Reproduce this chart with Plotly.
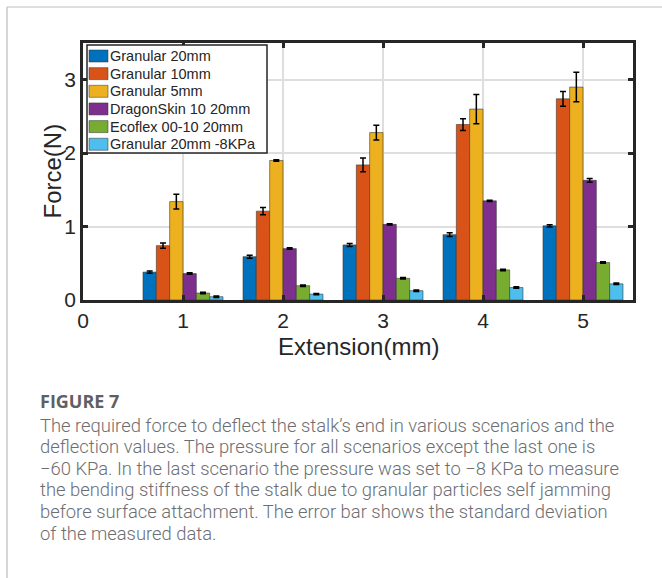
import plotly.graph_objects as go

# ---------------- data ----------------
extension_mm = [1, 2, 3, 4, 5]
series_names = ["Granular 20mm", "Granular 10mm", "Granular 5mm",
                "DragonSkin 10 20mm", "Ecoflex 00-10 20mm", "Granular 20mm -8KPa"]
granular_20 = [0.38, 0.59, 0.75, 0.89, 1.01]
granular_20_err = [0.015, 0.02, 0.02, 0.025, 0.015]
granular_10 = [0.74, 1.21, 1.84, 2.39, 2.74]
granular_10_err = [0.035, 0.05, 0.095, 0.08, 0.10]
granular_5 = [1.34, 1.90, 2.28, 2.60, 2.90]
granular_5_err = [0.10, 0.01, 0.10, 0.20, 0.20]
dragonskin = [0.36, 0.70, 1.03, 1.35, 1.63]
dragonskin_err = [0.01, 0.01, 0.01, 0.01, 0.025]
ecoflex = [0.095, 0.195, 0.295, 0.41, 0.51]
ecoflex_err = [0.01, 0.01, 0.01, 0.01, 0.01]
granular_20_low = [0.045, 0.08, 0.127, 0.17, 0.22]
granular_20_low_err = [0.01, 0.01, 0.01, 0.01, 0.01]
x_ticks = [0, 1, 2, 3, 4, 5]
y_ticks = [0, 1, 2, 3]

values = [granular_20, granular_10, granular_5, dragonskin, ecoflex, granular_20_low]
errors = [granular_20_err, granular_10_err, granular_5_err, dragonskin_err, ecoflex_err, granular_20_low_err]
colors = ["#0072BD", "#D95319", "#EDB120", "#7E2F8E", "#77AC30", "#4DBEEE"]

caption_title = "FIGURE 7"
caption_lines = [
    "The required force to deflect the stalk\u2019s end in various scenarios and the",
    "deflection values. The pressure for all scenarios except the last one is",
    "\u221260 KPa. In the last scenario the pressure was set to \u22128 KPa to measure",
    "the bending stiffness of the stalk due to granular particles self jamming",
    "before surface attachment. The error bar shows the standard deviation",
    "of the measured data.",
]

# ---------------- layout geometry (pixels) ----------------
W, H = 662, 578
L, R, T, B = 83, 633, 43, 300
PW, PH = R - L, B - T


def px(x):
    return (x - L) / PW


def py(y):
    return (B - y) / PH


fig = go.Figure()
for name, vals, errs, col in zip(series_names, values, errors, colors):
    fig.add_trace(go.Bar(
        x=extension_mm, y=vals, name=name,
        marker=dict(color=col, line=dict(color="rgba(50,50,50,0.55)", width=1)),
        error_y=dict(type="data", array=errs, visible=True, color="#000000",
                     thickness=1.5, width=3),
        showlegend=False,
    ))

axis_common = dict(
    showline=True, linewidth=2.5, linecolor="#262626", mirror="ticks",
    ticks="inside", ticklen=5, tickwidth=2.5, tickcolor="#262626",
    showgrid=True, gridcolor="#dedede", gridwidth=1.5, zeroline=False,
    automargin=False,
    tickfont=dict(family="Liberation Sans, Arial", size=21, color="#262626"),
)

fig.update_layout(
    width=W, height=H,
    margin=dict(l=L, r=W - R, t=T, b=H - B, autoexpand=False),
    paper_bgcolor="white", plot_bgcolor="white",
    barmode="group", bargap=0.2, bargroupgap=0.0,
    xaxis=dict(range=[0, 5.5], tickvals=x_ticks, ticklabelstandoff=0, **axis_common),
    yaxis=dict(range=[0, 3.5], tickvals=y_ticks, ticklabelstandoff=0, **axis_common),
)

shapes = []
annotations = []

title_font = dict(family="Liberation Sans, Arial", size=24, color="#262626")
annotations.append(dict(text="Extension(mm)", xref="paper", yref="paper",
                        x=0.5, y=py(346), xanchor="center", yanchor="middle",
                        showarrow=False, font=title_font))
annotations.append(dict(text="Force(N)", xref="paper", yref="paper",
                        x=px(52), y=0.5, xanchor="center", yanchor="middle",
                        textangle=-90, showarrow=False, font=title_font))

# custom legend box
lx0, lx1, ly0, ly1 = 87, 267, 45, 153
shapes.append(dict(type="rect", xref="paper", yref="paper",
                   x0=px(lx0), x1=px(lx1), y0=py(ly1), y1=py(ly0),
                   fillcolor="white", line=dict(color="#262626", width=1.5), layer="above"))
row0, row_h = 56.0, 17.65
for i, (name, col) in enumerate(zip(series_names, colors)):
    cy = row0 + i * row_h
    shapes.append(dict(type="rect", xref="paper", yref="paper",
                       x0=px(89), x1=px(108), y0=py(cy + 6), y1=py(cy - 6),
                       fillcolor=col, line=dict(color="rgba(50,50,50,0.5)", width=1), layer="above"))
    annotations.append(dict(text=name, xref="paper", yref="paper", x=px(109), y=py(cy),
                            xanchor="left", yanchor="middle", showarrow=False, borderpad=0,
                            font=dict(family="Liberation Sans, Arial", size=14.5, color="#262626")))

# outer border of the figure panel
shapes.append(dict(type="line", xref="paper", yref="paper",
                   x0=px(7), x1=px(W + 5), y0=py(7), y1=py(7),
                   line=dict(color="#bdbdbd", width=1.2)))
shapes.append(dict(type="line", xref="paper", yref="paper",
                   x0=px(7), x1=px(7), y0=py(7), y1=py(H + 5),
                   line=dict(color="#bdbdbd", width=1.2)))

# caption
annotations.append(dict(text="<b>" + caption_title + "</b>", xref="paper", yref="paper",
                        x=px(39), y=py(401), xanchor="left", yanchor="middle", showarrow=False,
                        borderpad=0,
                        font=dict(family="Open Sans, sans-serif", size=18, color="#5f6062")))
for i, line in enumerate(caption_lines):
    annotations.append(dict(text=line, xref="paper", yref="paper",
                            x=px(39), y=py(425 + i * 21.6), xanchor="left", yanchor="middle",
                            showarrow=False, borderpad=0,
                            font=dict(family="Roboto, Lato, sans-serif", size=18.4, weight=300,
                                      color="#6d6e71")))

fig.update_layout(shapes=shapes, annotations=annotations)
fig.write_html("out.html", config={"displayModeBar": False},
               post_script="document.body.style.margin='0px';document.body.style.overflow='hidden';")
